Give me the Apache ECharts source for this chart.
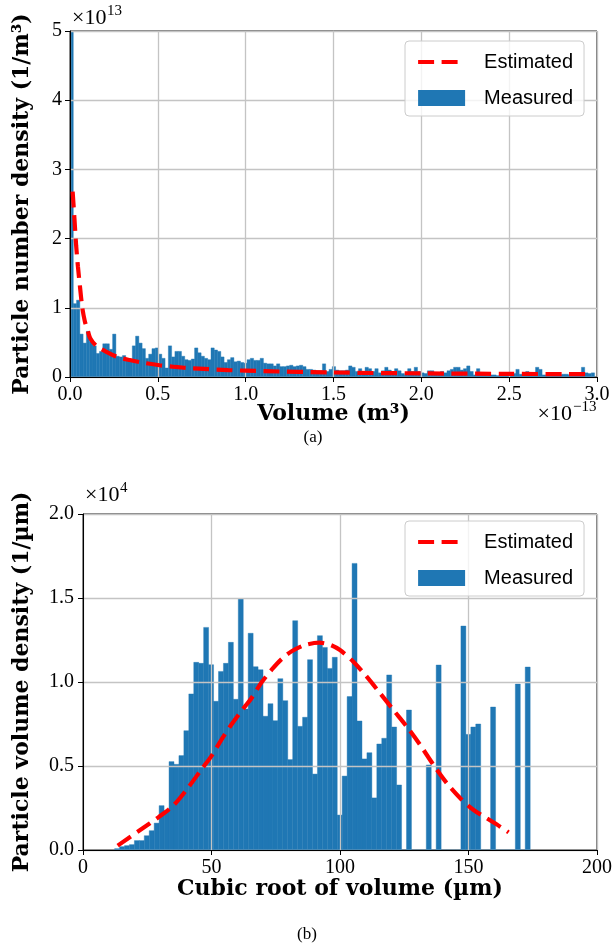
<!DOCTYPE html>
<html>
<head>
<meta charset="utf-8">
<script src="https://cdn.jsdelivr.net/npm/echarts@6/dist/echarts.min.js"></script>
<style>
  html, body { margin: 0; padding: 0; background: #fff; }
  #chart { width: 616px; height: 952px; }
</style>
</head>
<body>
<div id="chart"></div>
<script>
// ---- (a) particle number density vs. volume (x in 1e-13 m^3, y in 1e13 1/m^3) ----
const numberBinRange = [0, 2.986];          // histogram range, 160 equal bins
const numberDensity = [
  6.2, 1.06, 1.11, 0.62, 0.49, 0.66, 0.51, 0.45, 0.34, 0.37,
  0.48, 0.48, 0.40, 0.62, 0.30, 0.29, 0.31, 0.25, 0.26, 0.45,
  0.59, 0.49, 0.41, 0.27, 0.33, 0.41, 0.42, 0.33, 0.27, 0.13,
  0.45, 0.29, 0.37, 0.37, 0.30, 0.25, 0.24, 0.26, 0.42, 0.35,
  0.30, 0.27, 0.25, 0.42, 0.39, 0.37, 0.29, 0.21, 0.25, 0.28,
  0.22, 0.23, 0.21, 0.20, 0.25, 0.27, 0.24, 0.24, 0.27, 0.20,
  0.19, 0.19, 0.16, 0.19, 0.15, 0.15, 0.16, 0.17, 0.15, 0.16,
  0.17, 0.15, 0.11, 0.11, 0.10, 0.09, 0.09, 0.19, 0.08, 0.11,
  0.15, 0.10, 0.09, 0.09, 0.10, 0.16, 0.14, 0.08, 0.12, 0.05,
  0.14, 0.12, 0.08, 0.12, 0.06, 0.09, 0.14, 0.10, 0.08, 0.12,
  0.09, 0.05, 0.03, 0.12, 0.08, 0.14, 0.08, 0.06, 0.05, 0.09,
  0.09, 0.05, 0.06, 0.08, 0.06, 0.09, 0.11, 0.14, 0.14, 0.10,
  0.12, 0.16, 0.08, 0.03, 0.12, 0.03, 0.03, 0.02, 0.03, 0.03,
  0.02, 0.05, 0.03, 0.03, 0.02, 0.05, 0.11, 0.04, 0.05, 0.08,
  0.06, 0.06, 0.14, 0.11, 0.03, 0.03, 0.01, 0.04, 0.04, 0.03,
  0.04, 0.04, 0.03, 0.06, 0.06, 0.05, 0.14, 0.06, 0.05, 0.06
];
const numberFitVolume = [0.015, 0.025, 0.035, 0.045, 0.057, 0.07, 0.085, 0.1, 0.115, 0.15,
  0.21, 0.27, 0.34, 0.42, 0.51, 0.6, 0.7, 0.9, 1.1, 1.5, 2.0, 2.5, 2.95];
const numberFitDensity = [2.68, 2.3, 1.9, 1.6, 1.3, 1.0, 0.8, 0.68, 0.56, 0.45,
  0.36, 0.29, 0.245, 0.205, 0.17, 0.145, 0.125, 0.1, 0.085, 0.065, 0.052, 0.045, 0.04];
const numberXTicks = { min: 0, max: 3, step: 0.5 };
const numberYTicks = { min: 0, max: 5, step: 1 };

// ---- (b) particle volume density vs. cubic root of volume (x in um, y in 1e4 1/um) ----
const volumeBinRange = [12.3, 174.0];       // histogram range, 84 equal bins
const volumeDensity = [
  0.008, 0.020, 0.026, 0.032, 0.056, 0.056, 0.085, 0.115, 0.160, 0.264,
  0.234, 0.526, 0.510, 0.562, 0.710, 0.929, 1.117, 1.111, 1.325, 1.103,
  0.885, 1.063, 1.111, 1.236, 0.897, 1.496, 0.839, 1.290, 1.091, 1.073,
  0.796, 0.871, 0.770, 1.020, 0.889, 0.538, 1.365, 0.736, 0.790, 1.133,
  0.452, 1.276, 1.206, 1.081, 1.147, 0.208, 0.440, 0.913, 1.706, 0.768,
  0.542, 0.579, 0.310, 0.631, 0.665, 1.042, 0.732, 0.387, 0.000, 0.833,
  0.000, 0.000, 0.000, 0.506, 0.000, 1.101, 0.000, 0.000, 0.000, 0.000,
  1.333, 0.688, 0.732, 0.750, 0.000, 0.000, 0.851, 0.000, 0.000, 0.000,
  0.000, 0.988, 0.000, 1.089
];
const volumeFitRoot = [13.5, 22.8, 29.3, 35.1, 41.0, 46.2, 50.1, 54.0, 57.9, 61.7, 65.6,
  69.5, 73.4, 77.3, 81.2, 86.4, 92.0, 96.0, 100.0, 105.2, 110.4, 115.6, 120.8, 126.0,
  131.2, 136.4, 141.6, 146.8, 152.0, 157.2, 162.3, 165.6];
const volumeFitDensity = [0.026, 0.125, 0.194, 0.264, 0.373, 0.482, 0.562, 0.66, 0.75, 0.829, 0.905,
  0.998, 1.073, 1.137, 1.183, 1.22, 1.234, 1.222, 1.19, 1.121, 1.032, 0.933, 0.833, 0.734,
  0.625, 0.506, 0.397, 0.308, 0.238, 0.188, 0.139, 0.105];
const volumeXTicks = { min: 0, max: 200, step: 50 };
const volumeYTicks = { min: 0, max: 2, step: 0.5 };

// ---- styling ----
const BAR_BLUE = '#1f77b4';
const FIT_RED = '#ff0000';
const FIT_LINE = { color: FIT_RED, width: 4.2, type: [16, 7.5] };
const SERIF = 'Liberation Serif';
const TITLE_FONT = 'DejaVu Serif';
const SANS = 'Liberation Sans';

function histogramData(range, values) {
  const w = (range[1] - range[0]) / values.length;
  return values.map((v, i) => [range[0] + i * w, range[0] + (i + 1) * w, v]);
}
function pairs(xs, ys) { return xs.map((x, i) => [x, ys[i]]); }

function renderBin(params, api) {
  const top = api.coord([api.value(0), api.value(2)]);
  const base = api.coord([api.value(1), 0]);
  return {
    type: 'rect',
    shape: { x: top[0], y: top[1], width: base[0] - top[0], height: base[1] - top[1] },
    style: { fill: BAR_BLUE, stroke: BAR_BLUE, lineWidth: 0.4 }
  };
}

function tickLabel(fmt, margin) {
  return { color: '#000', fontFamily: SERIF, fontSize: 20, margin: margin, formatter: fmt };
}

function valueAxis(gridIndex, ticks, extra) {
  return Object.assign({
    type: 'value', gridIndex, min: ticks.min, max: ticks.max, interval: ticks.step,
    z: 3,
    axisLine: { show: true, onZero: false, lineStyle: { color: '#000', width: 1 } },
    axisTick: { show: true, length: 5, lineStyle: { color: '#000', width: 1 } },
    splitLine: { show: true, lineStyle: { color: '#c4c4c4', width: 1.3 } },
    nameLocation: 'middle', nameMoveOverlap: false,
    nameTextStyle: { color: '#000', fontFamily: TITLE_FONT, fontWeight: 'bold', fontSize: 22 }
  }, extra);
}

const legendBase = {
  orient: 'vertical', itemWidth: 47, itemHeight: 16, itemGap: 12,
  padding: [9, 11, 6, 11], z: 10,
  backgroundColor: 'rgba(255,255,255,0.8)', borderColor: '#cccccc', borderWidth: 1, borderRadius: 4,
  textStyle: { color: '#000', fontFamily: SANS, fontSize: 20, lineHeight: 24, padding: [0, 0, 0, 14] },
  data: [
    { name: 'Estimated', itemStyle: { opacity: 0 }, lineStyle: FIT_LINE },
    { name: 'Measured', icon: 'rect' }
  ]
};

const option = {
  animation: false,
  backgroundColor: '#fff',
  grid: [
    { left: 70, top: 31, width: 527, height: 346, show: true, borderColor: '#000', borderWidth: 1,
      backgroundColor: 'transparent', outerBoundsMode: 'none' },
    { left: 83, top: 514, width: 514, height: 336, show: true, borderColor: '#000', borderWidth: 1,
      backgroundColor: 'transparent', outerBoundsMode: 'none' }
  ],
  xAxis: [
    valueAxis(0, numberXTicks, { name: 'Volume (m³)', nameGap: 26,
      axisLabel: tickLabel(v => v.toFixed(1), 8) }),
    valueAxis(1, volumeXTicks, { name: 'Cubic root of volume (µm)', nameGap: 28,
      axisLabel: tickLabel(v => String(v), 8) })
  ],
  yAxis: [
    valueAxis(0, numberYTicks, { name: 'Particle number density (1/m³)', nameGap: 37,
      axisLabel: tickLabel(v => String(v), 8) }),
    valueAxis(1, volumeYTicks, { name: 'Particle volume density (1/µm)', nameGap: 50,
      axisLabel: tickLabel(v => v.toFixed(1), 9) })
  ],
  legend: [
    Object.assign({}, legendBase, { left: 405, top: 41 }),
    Object.assign({}, legendBase, { left: 405, top: 521 })
  ],
  series: [
    { name: 'Measured', type: 'custom', xAxisIndex: 0, yAxisIndex: 0, z: 1, clip: true,
      renderItem: renderBin, encode: { x: [0, 1], y: 2 },
      itemStyle: { color: BAR_BLUE }, data: histogramData(numberBinRange, numberDensity) },
    { name: 'Estimated', type: 'line', xAxisIndex: 0, yAxisIndex: 0, z: 5, smooth: 0.3,
      symbol: 'none', showSymbol: false, clip: true,
      lineStyle: FIT_LINE, itemStyle: { color: FIT_RED },
      data: pairs(numberFitVolume, numberFitDensity) },
    { name: 'Measured', type: 'custom', xAxisIndex: 1, yAxisIndex: 1, z: 1, clip: true,
      renderItem: renderBin, encode: { x: [0, 1], y: 2 },
      itemStyle: { color: BAR_BLUE }, data: histogramData(volumeBinRange, volumeDensity) },
    { name: 'Estimated', type: 'line', xAxisIndex: 1, yAxisIndex: 1, z: 5, smooth: 0.3,
      symbol: 'none', showSymbol: false, clip: true,
      lineStyle: FIT_LINE, itemStyle: { color: FIT_RED },
      data: pairs(volumeFitRoot, volumeFitDensity) }
  ],
  graphic: [
    // axis multipliers
    { type: 'text', x: 72, y: 18, style: { text: '×10', fontFamily: SERIF, fontSize: 22, fill: '#000', verticalAlign: 'middle' } },
    { type: 'text', x: 107, y: 11, style: { text: '13', fontFamily: SERIF, fontSize: 15, fill: '#000', verticalAlign: 'middle' } },
    { type: 'text', x: 572, y: 414, style: { text: '×10', fontFamily: SERIF, fontSize: 22, fill: '#000', align: 'right', verticalAlign: 'middle' } },
    { type: 'text', x: 573, y: 407, style: { text: '−13', fontFamily: SERIF, fontSize: 15, fill: '#000', verticalAlign: 'middle' } },
    { type: 'text', x: 85, y: 495, style: { text: '×10', fontFamily: SERIF, fontSize: 22, fill: '#000', verticalAlign: 'middle' } },
    { type: 'text', x: 120, y: 488, style: { text: '4', fontFamily: SERIF, fontSize: 15, fill: '#000', verticalAlign: 'middle' } },
    // panel captions
    { type: 'text', x: 313, y: 438, style: { text: '(a)', fontFamily: SERIF, fontSize: 17, fill: '#000', align: 'center', verticalAlign: 'middle' } },
    { type: 'text', x: 307, y: 935, style: { text: '(b)', fontFamily: SERIF, fontSize: 17, fill: '#000', align: 'center', verticalAlign: 'middle' } }
  ]
};

const chart = echarts.init(document.getElementById('chart'), null, { renderer: 'canvas' });
chart.setOption(option);
</script>
</body>
</html>
